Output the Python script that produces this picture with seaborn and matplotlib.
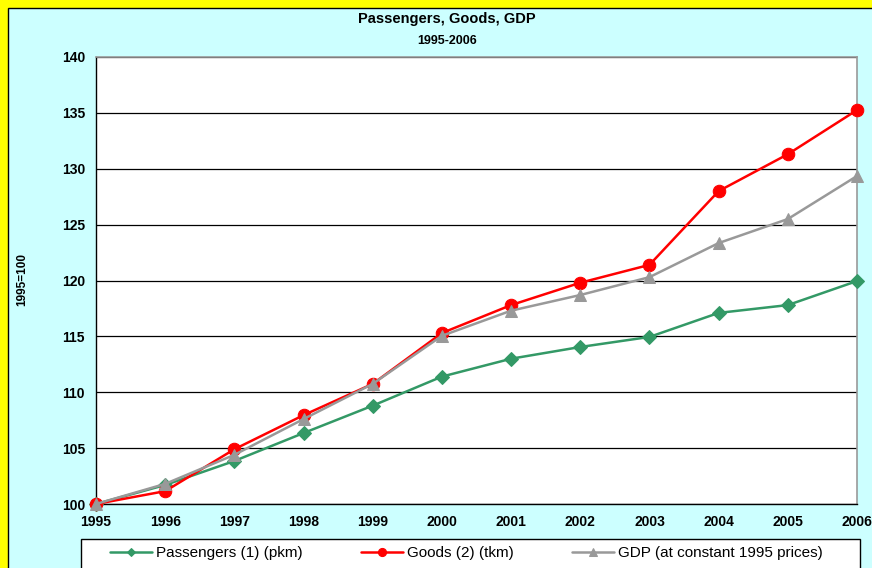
import matplotlib
matplotlib.use("Agg")
import matplotlib.pyplot as plt
from matplotlib.patches import Rectangle
import numpy as np
import pandas as pd
import seaborn as sns

# data (index 1995=100)
years = [1995, 1996, 1997, 1998, 1999, 2000, 2001, 2002, 2003, 2004, 2005, 2006]
passengers = [100, 101.7, 103.85, 106.35, 108.8, 111.4, 113.0, 114.05, 114.95, 117.1, 117.8, 119.95]
goods = [100, 101.15, 104.9, 107.95, 110.75, 115.3, 117.8, 119.8, 121.4, 128.0, 131.3, 135.25]
gdp = [100, 101.8, 104.4, 107.6, 110.75, 115.05, 117.3, 118.7, 120.3, 123.35, 125.5, 129.35]

series_names = ["Passengers (1) (pkm)", "Goods (2) (tkm)", "GDP (at constant 1995 prices)"]
series_colors = ["#339966", "#FF0000", "#999999"]
series_markers = ["D", "o", "^"]
series_sizes = [7, 9, 9]

sns.set_style("white")
plt.rcParams["font.family"] = ["Liberation Sans", "DejaVu Sans"]
plt.rcParams["text.color"] = "black"

W, H = 872, 568
fig = plt.figure(figsize=(W / 100, H / 100), dpi=100, facecolor="#FFFF00")

# cyan chart area with black edge (runs off right/bottom)
bg = fig.add_axes([0, 0, 1, 1], zorder=-1)
bg.set_xlim(0, W)
bg.set_ylim(H, 0)
bg.axis("off")
bg.add_patch(Rectangle((8, 8), W + 20, H + 20, facecolor="#CCFFFF", edgecolor="black", linewidth=1))
# legend box, also running off the bottom
bg.add_patch(Rectangle((81, 539), 860 - 81, 60, facecolor="white", edgecolor="black", linewidth=1))

ax = fig.add_axes([96 / W, 1 - 504 / H, (857 - 96) / W, (504 - 57) / H], zorder=2)
ax.set_facecolor("white")

df = pd.DataFrame({"year": years, series_names[0]: passengers,
                   series_names[1]: goods, series_names[2]: gdp})

for name, col, mk, ms in zip(series_names, series_colors, series_markers, series_sizes):
    sns.lineplot(data=df, x="year", y=name, ax=ax, color=col, marker=mk, markersize=ms,
                 markeredgecolor=col, linewidth=1.8, label=name, clip_on=False, zorder=3)

ax.set_xlim(1995, 2006)
ax.set_ylim(100, 140)
ax.set_xticks(years)
ax.set_yticks(np.arange(100, 141, 5))
ax.grid(axis="y", color="black", linewidth=0.9)
ax.grid(axis="x", visible=False)
ax.set_axisbelow(True)

for s in ["left", "bottom"]:
    ax.spines[s].set_color("black")
    ax.spines[s].set_linewidth(1)
for s in ["top", "right"]:
    ax.spines[s].set_color("#999999")
    ax.spines[s].set_linewidth(1.2)

ax.tick_params(axis="y", direction="out", length=5, width=1, pad=3, labelsize=10, colors="black")
ax.tick_params(axis="x", direction="in", length=3, width=1, pad=8, labelsize=10, colors="black")
for lab in ax.get_xticklabels() + ax.get_yticklabels():
    lab.set_fontweight("bold")

ax.set_xlabel("")
ax.set_ylabel("")
fig.text(22 / W, 1 - 280 / H, "1995=100", rotation=90, ha="center", va="center",
         fontsize=8.5, fontweight="bold")

fig.text(447 / W, 1 - 19 / H, "Passengers, Goods, GDP", ha="center", va="center",
         fontsize=10.5, fontweight="bold")
fig.text(447 / W, 1 - 41 / H, "1995-2006", ha="center", va="center",
         fontsize=9, fontweight="bold")

handles, labels = ax.get_legend_handles_labels()
ax.get_legend().remove()
fig.legend(handles, labels, loc="center left", bbox_to_anchor=(96 / W, 1 - 553 / H),
           ncol=3, frameon=False, fontsize=11, handlelength=2.75, handletextpad=0.25,
           columnspacing=3.85, markerscale=0.65)

fig.savefig("out.png", dpi=100, facecolor=fig.get_facecolor())
